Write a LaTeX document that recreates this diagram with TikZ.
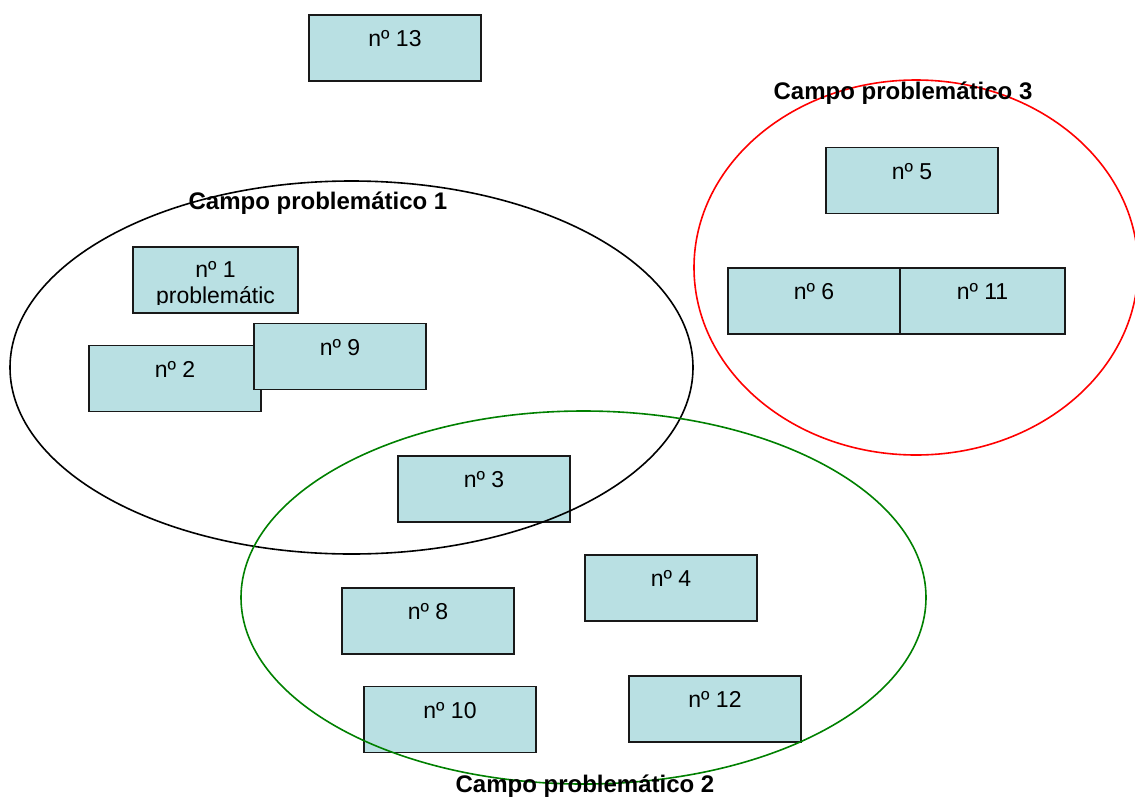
\documentclass[tikz,border=0pt]{standalone}
\usepackage{fontspec}
\setmainfont{Liberation Sans}
\definecolor{boxfill}{RGB}{185,224,227}
\definecolor{fieldgreen}{RGB}{0,128,0}
\begin{document}
\begin{tikzpicture}[x=1pt,y=-1pt,
	card/.style={draw=black!90,line width=1.6pt,fill=boxfill,minimum width=172pt,minimum height=66pt,
		inner xsep=0pt,inner ysep=0pt,text height=31.5pt,text depth=34.5pt,font=\fontsize{23}{27}\selectfont},
	cardtext/.style={inner sep=0pt,anchor=base,font=\fontsize{23}{27}\selectfont},
	fieldname/.style={font=\fontsize{24}{28}\selectfont\bfseries,inner sep=0pt}]
	\useasboundingbox (0,0) rectangle (1135,798);

	\node[card] (N13) at (395,48) {nº 13};
	\node[card] (N5) at (912,180.5) {nº 5};
	\node[card] (N6) at (814,301) {nº 6};
	\node[card,minimum width=165pt] (N11) at (982.5,301) {nº 11};
	\node[card,minimum width=165pt,text height=30pt,text depth=36pt] (N1) at (215.5,280) {nº 1};
	\begin{scope}
		\clip ([yshift=9pt]N1.south west) rectangle (N1.north east);
		\node[cardtext] (N1b) at ([yshift=-57pt]N1.north) {problemátic};
	\end{scope}
	\node[card] (N2) at (175,378.5) {nº 2};
	\node[card] (N9) at (340,356.5) {nº 9};
	\node[card] (N3) at (484,489) {nº 3};
	\node[card] (N4) at (671,588) {nº 4};
	\node[card] (N8) at (428,621) {nº 8};
	\node[card] (N10) at (450,719.5) {nº 10};
	\node[card] (N12) at (715,709) {nº 12};

	% problem fields
	\draw[line width=1.6pt,black] (351.5,367.5) ellipse [x radius=341.5, y radius=186.5];
	\draw[line width=1.6pt,fieldgreen] (583.5,597.5) ellipse [x radius=342.5, y radius=186.5];
	\draw[line width=1.6pt,red] (916,267.5) ellipse [x radius=222, y radius=187.5];

	\node[fieldname] (F1) at (318,203) {Campo problemático 1};
	\node[fieldname] (F3) at (903,93) {Campo problemático 3};
	\node[fieldname] (F2) at (585,786) {Campo problemático 2};
\end{tikzpicture}
\end{document}
